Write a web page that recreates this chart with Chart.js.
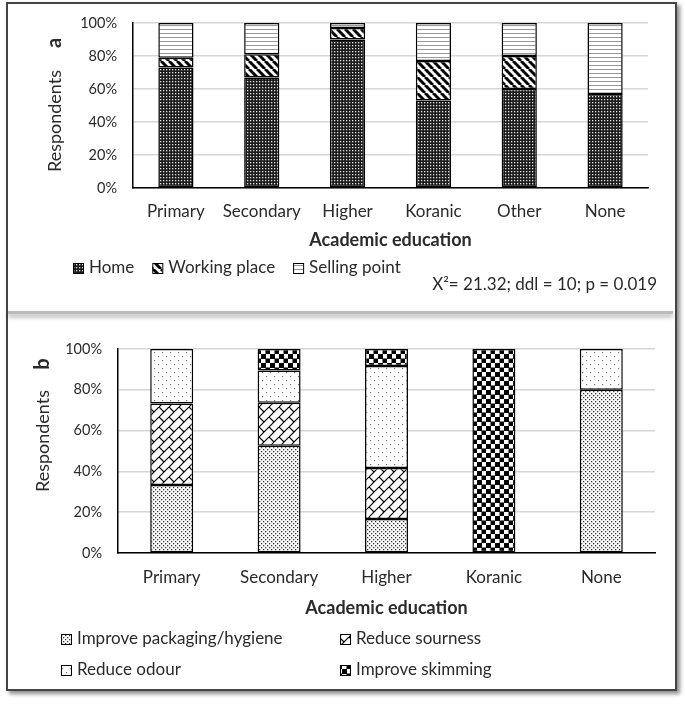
<!DOCTYPE html>
<html>
<head>
<meta charset="utf-8">
<script src="https://cdn.jsdelivr.net/npm/chart.js"></script>
<style>
  body { margin: 0; background: #fff; width: 685px; height: 707px; position: relative; font-family: Lato, sans-serif; }
  #frame { position: absolute; left: 6px; top: 2px; width: 667px; height: 685px; border: 2px solid #444; box-shadow: 3px 3px 4px rgba(0,0,0,0.45); }
  #sep { position: absolute; left: 8px; top: 311px; width: 665px; height: 3px; background: #bbb; box-shadow: 0 3px 4px rgba(0,0,0,0.35); }
  canvas { position: absolute; }
  #chartA { left: 9px; top: 5px; }
  #chartB { left: 9px; top: 327px; }
</style>
</head>
<body>
<div id="frame"></div>
<div id="sep"></div>
<canvas id="chartA" width="662" height="305"></canvas>
<canvas id="chartB" width="664" height="360"></canvas>
<script>
// Panel a : place of consumption (%)
var catsA = ['Primary', 'Secondary', 'Higher', 'Koranic', 'Other', 'None'];
var homeA = [73, 67, 90, 53, 60, 57];
var workA = [6, 14, 7, 24, 20, 0];
var sellA = [21, 19, 3, 23, 20, 43];

// Panel b : suggested improvements (%)
var catsB = ['Primary', 'Secondary', 'Higher', 'Koranic', 'None'];
var packB = [33.3, 52.6, 16.7, 0, 80];
var sourB = [40, 21.1, 25, 0, 0];
var odourB = [26.7, 15.8, 50, 0, 20];
var skimB = [0, 10.5, 8.3, 100, 0];

var yTicks = [0, 20, 40, 60, 80, 100];
var statText = 'X\u00b2= 21.32; ddl = 10; p = 0.019';

var FONT = 'Lato, "Liberation Sans", sans-serif';
var TXT = '#2a2a2a';

// pattern fills
function makePattern(kind) {
    var c = document.createElement('canvas');
    var g = c.getContext('2d');
    var n = 8;
    if (kind === 'home') {
        n = 3; c.width = c.height = n;
        g.fillStyle = '#1c1c1c'; g.fillRect(0, 0, n, n);
        g.fillStyle = '#e0e0e0'; g.fillRect(1, 1, 1.3, 1.3);
    } else if (kind === 'work') {
        n = 8; c.width = c.height = n;
        g.fillStyle = '#fff'; g.fillRect(0, 0, n, n);
        g.strokeStyle = '#000'; g.lineWidth = 3;
        for (var k = -1; k <= 1; k++) {
            g.beginPath(); g.moveTo(k * n, 0); g.lineTo(k * n + n, n); g.stroke();
        }
    } else if (kind === 'sell') {
        n = 4; c.width = c.height = n;
        g.fillStyle = '#fff'; g.fillRect(0, 0, n, n);
        g.fillStyle = '#999'; g.fillRect(0, 0, n, 1);
    } else if (kind === 'pack') {
        n = 4; c.width = c.height = n;
        g.fillStyle = '#fff'; g.fillRect(0, 0, n, n);
        g.fillStyle = '#333'; g.fillRect(0, 0, 1.3, 1.3); g.fillRect(2, 2, 1.3, 1.3);
    } else if (kind === 'sour') {
        n = 10; c.width = c.height = n;
        g.fillStyle = '#fff'; g.fillRect(0, 0, n, n);
        g.strokeStyle = '#000'; g.lineWidth = 1.2;
        for (var k = -1; k <= 1; k++) {
            g.beginPath(); g.moveTo(k * n, n); g.lineTo(k * n + n, 0); g.stroke();
        }
        g.beginPath(); g.moveTo(0, 0); g.lineTo(n / 2, n / 2); g.stroke();
    } else if (kind === 'odour') {
        n = 8; c.width = c.height = n;
        g.fillStyle = '#fff'; g.fillRect(0, 0, n, n);
        g.fillStyle = '#777'; g.fillRect(1, 1, 1.2, 1.2); g.fillRect(5, 5, 1.2, 1.2);
    } else if (kind === 'skim') {
        n = 9; c.width = c.height = n;
        g.fillStyle = '#fff'; g.fillRect(0, 0, n, n);
        g.fillStyle = '#000'; g.fillRect(0, 0, 5, 5); g.fillRect(4.5, 4.5, 5, 5);
    }
    return g.createPattern(c, 'repeat');
}

function ds(label, data, kind, bp) {
    return {
        label: label, data: data,
        backgroundColor: makePattern(kind),
        borderColor: '#000', borderWidth: 1.5, borderSkipped: false,
        barPercentage: bp, categoryPercentage: 1
    };
}

// y-axis title with bold panel letter, legend and note drawn on canvas
var extras = {
    id: 'extras',
    afterDraw: function (chart) {
        var o = chart.options.plugins.extras;
        var ctx = chart.ctx;
        ctx.save();
        ctx.fillStyle = TXT;
        // y title
        ctx.save();
        ctx.translate(o.yTitle.x, o.yTitle.y);
        ctx.rotate(-Math.PI / 2);
        ctx.textAlign = 'center'; ctx.textBaseline = 'middle';
        ctx.font = '18px ' + FONT;
        ctx.fillText('Respondents', 0, 0);
        ctx.restore();
        ctx.save();
        ctx.translate(o.letter.x, o.letter.y);
        ctx.rotate(-Math.PI / 2);
        ctx.textAlign = 'center'; ctx.textBaseline = 'middle';
        ctx.font = 'bold 20px ' + FONT;
        ctx.fillText(o.letter.text, 0, 0);
        ctx.restore();
        // legend
        ctx.font = '17px ' + FONT;
        ctx.textAlign = 'left'; ctx.textBaseline = 'middle';
        var dsets = chart.data.datasets;
        var x = o.legend.x;
        for (var i = 0; i < dsets.length; i++) {
            var pos = o.legend.pos ? o.legend.pos[i] : { x: x, y: o.legend.y };
            ctx.fillStyle = dsets[i].backgroundColor;
            ctx.fillRect(pos.x, pos.y - 5, 10, 10);
            ctx.strokeStyle = '#000'; ctx.lineWidth = 1;
            ctx.strokeRect(pos.x + 0.5, pos.y - 4.5, 10, 10);
            ctx.fillStyle = TXT;
            ctx.fillText(dsets[i].label, pos.x + 16, pos.y);
            x = pos.x + 16 + ctx.measureText(dsets[i].label).width + 18;
        }
        // note
        if (o.note) {
            ctx.font = '17px ' + FONT;
            ctx.textAlign = 'right';
            ctx.fillText(o.note.text, o.note.x, o.note.y);
        }
        ctx.restore();
    }
};

function makeOptions(cfg) {
    return {
        responsive: false,
        animation: false,
        devicePixelRatio: 1,
        layout: { padding: { left: 0, top: cfg.top, right: cfg.right, bottom: cfg.bottom } },
        plugins: {
            legend: { display: false },
            tooltip: { enabled: false },
            extras: cfg.extras
        },
        scales: {
            x: {
                stacked: true,
                grid: { display: false, drawTicks: false },
                border: { display: true, color: '#000', width: 1.5 },
                ticks: { color: TXT, padding: cfg.tickPad, font: { family: FONT, size: 17 } },
                title: { display: true, text: 'Academic education', color: TXT,
                         font: { family: FONT, size: 18, weight: 'bold' }, padding: { top: 0, bottom: cfg.titlePad } },
                afterFit: function (s) { s.height = 70; }
            },
            y: {
                stacked: true, min: 0, max: 100,
                afterBuildTicks: function (s) { s.ticks = yTicks.map(function (v) { return { value: v }; }); },
                grid: { color: '#d6d6d6', lineWidth: 1.5, drawTicks: false },
                border: { display: true, color: '#000', width: 1.5 },
                ticks: { color: TXT, padding: 16, font: { family: FONT, size: 14.5 },
                         callback: function (v) { return v + '%'; } },
                afterFit: function (s) {
                    s.width = cfg.yWidth;
                    s.paddingTop = 0; s.paddingBottom = 0;
                }
            }
        }
    };
}

new Chart(document.getElementById('chartA'), {
    type: 'bar',
    data: {
        labels: catsA,
        datasets: [
            ds('Home', homeA, 'home', 0.41),
            ds('Working place', workA, 'work', 0.41),
            ds('Selling point', sellA, 'sell', 0.41)
        ]
    },
    options: makeOptions({
        top: 18, right: 23, bottom: 52, yWidth: 124, tickPad: 13, titlePad: 7,
        extras: {
            yTitle: { x: 46, y: 116 },
            letter: { x: 46, y: 38, text: 'a' },
            legend: { x: 64, y: 263 },
            note: { text: statText, x: 648, y: 280 }
        }
    }),
    plugins: [extras]
});

new Chart(document.getElementById('chartB'), {
    type: 'bar',
    data: {
        labels: catsB,
        datasets: [
            ds('Improve packaging/hygiene', packB, 'pack', 0.40),
            ds('Reduce sourness', sourB, 'sour', 0.40),
            ds('Reduce odour', odourB, 'odour', 0.40),
            ds('Improve skimming', skimB, 'skim', 0.40)
        ]
    },
    options: makeOptions({
        top: 22, right: 18, bottom: 64, yWidth: 109, tickPad: 14, titlePad: 4,
        extras: {
            yTitle: { x: 34, y: 114 },
            letter: { x: 34, y: 37, text: 'b' },
            legend: { pos: [{ x: 52, y: 312 }, { x: 331, y: 312 }, { x: 52, y: 343 }, { x: 331, y: 343 }] }
        }
    }),
    plugins: [extras]
});
</script>
</body>
</html>
